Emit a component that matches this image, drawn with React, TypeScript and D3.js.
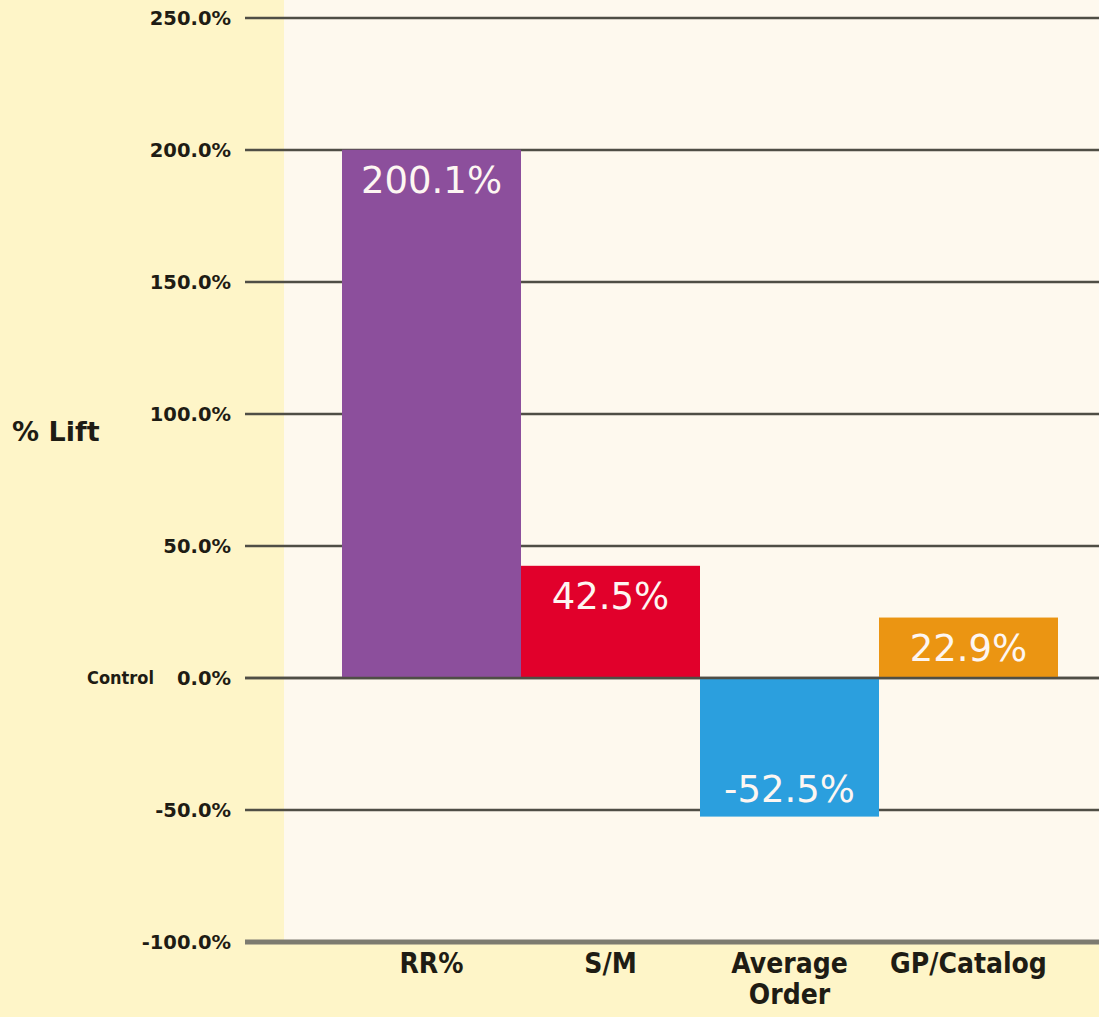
import * as d3 from 'd3';
import { useEffect, useRef } from 'react';

const categories = ['RR%', 'S/M', 'Average Order', 'GP/Catalog'];
const lifts = [200.1, 42.5, -52.5, 22.9];
const barColors = ['#8c4f9c', '#e1002b', '#2b9fde', '#eb9512'];
const ticks = [-100, -50, 0, 50, 100, 150, 200, 250];

const App: React.FC = () => {
  const ref = useRef<null | SVGSVGElement>(null);

  useEffect(() => {
    const width = 1099;
    const height = 1017;

    const svg = d3.select(ref.current);
    svg.selectAll('*').remove();
    svg.attr('width', width).attr('height', height);

    // scales
    const y = d3.scaleLinear().domain([-100, 250]).range([942, 18]);
    const x = d3.scaleBand<string>().domain(categories).range([342, 1058]).padding(0);

    // backgrounds
    svg.append('rect').attr('width', width).attr('height', height).attr('fill', '#fef5c8');
    svg
      .append('rect')
      .attr('x', 284)
      .attr('y', 0)
      .attr('width', width - 284)
      .attr('height', y(-100))
      .attr('fill', '#fef9ee');

    // gridlines
    svg
      .append('g')
      .selectAll()
      .data(ticks)
      .join('line')
      .attr('x1', 245)
      .attr('x2', width)
      .attr('y1', (d) => y(d))
      .attr('y2', (d) => y(d))
      .attr('stroke', (d) => (d === -100 ? '#7d7b70' : '#4f4e45'))
      .attr('stroke-width', (d) => (d === -100 ? 5 : 2.5));

    // tick labels
    svg
      .append('g')
      .selectAll()
      .data(ticks)
      .join('text')
      .attr('x', 231)
      .attr('y', (d) => y(d))
      .attr('dy', '0.36em')
      .attr('text-anchor', 'end')
      .attr('font-family', 'DejaVu Sans')
      .attr('font-weight', 'bold')
      .attr('font-size', 19.5)
      .attr('fill', '#1e1c14')
      .text((d) => `${d.toFixed(1)}%`);

    svg
      .append('text')
      .attr('x', 154)
      .attr('y', y(0))
      .attr('dy', '0.36em')
      .attr('text-anchor', 'end')
      .attr('font-family', 'DejaVu Sans Condensed, DejaVu Sans')
      .attr('font-weight', 'bold')
      .attr('font-size', 18)
      .attr('fill', '#1e1c14')
      .text('Control');

    svg
      .append('text')
      .attr('x', 12)
      .attr('y', 441)
      .attr('font-family', 'DejaVu Sans')
      .attr('font-weight', 'bold')
      .attr('font-size', 27)
      .attr('fill', '#1e1c14')
      .text('% Lift');

    // bars
    const data = categories.map((c, i) => ({ name: c, value: lifts[i], color: barColors[i] }));
    svg
      .append('g')
      .selectAll()
      .data(data)
      .join('rect')
      .attr('x', (d) => x(d.name)!)
      .attr('width', x.bandwidth())
      .attr('y', (d) => Math.min(y(d.value), y(0)))
      .attr('height', (d) => Math.abs(y(d.value) - y(0)))
      .attr('fill', (d) => d.color);

    // redraw zero line on top
    svg
      .append('line')
      .attr('x1', 245)
      .attr('x2', width)
      .attr('y1', y(0))
      .attr('y2', y(0))
      .attr('stroke', '#4f4e45')
      .attr('stroke-width', 2.5);

    // value labels
    svg
      .append('g')
      .selectAll()
      .data(data)
      .join('text')
      .attr('x', (d) => x(d.name)! + x.bandwidth() / 2)
      .attr('y', (d) => (d.value >= 0 ? y(d.value) + 43 : y(d.value) - 15))
      .attr('text-anchor', 'middle')
      .attr('font-family', 'DejaVu Sans')
      .attr('font-size', 37)
      .attr('fill', '#fdf6f2')
      .text((d) => `${d.value.toFixed(1)}%`);

    // category labels, "Average Order" wrapped on two lines
    const labels = svg
      .append('g')
      .selectAll()
      .data(data)
      .join('text')
      .attr('x', (d) => x(d.name)! + x.bandwidth() / 2)
      .attr('y', 973)
      .attr('text-anchor', 'middle')
      .attr('font-family', 'DejaVu Sans Condensed, DejaVu Sans')
      .attr('font-weight', 'bold')
      .attr('font-size', 28)
      .attr('fill', '#1e1c14');

    labels
      .selectAll('tspan')
      .data((d) => (d.name === 'Average Order' ? ['Average', 'Order'] : [d.name]))
      .join('tspan')
      .attr('x', function () {
        return (this as SVGTSpanElement).parentElement!.getAttribute('x');
      })
      .attr('dy', (_d, i) => (i === 0 ? 0 : 31))
      .text((d) => d);
  }, []);

  return <svg ref={ref} style={{ position: 'absolute', left: 0, top: 0 }} />;
};

export default App;
